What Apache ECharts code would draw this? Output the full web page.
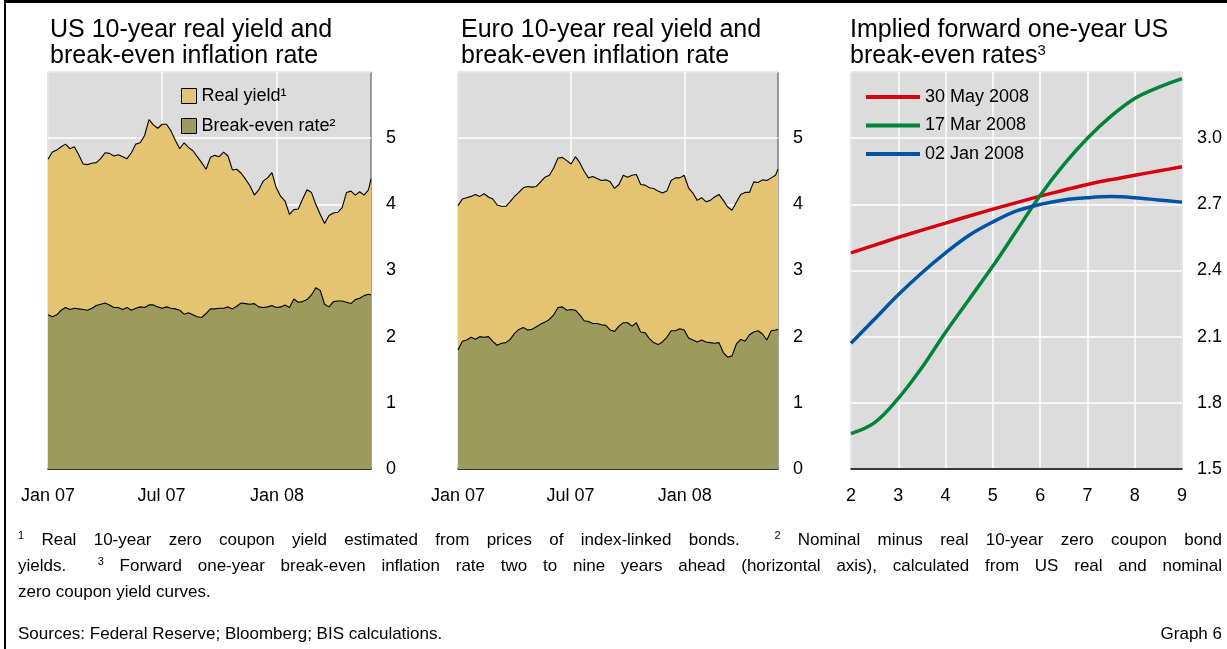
<!DOCTYPE html>
<html>
<head>
<meta charset="utf-8">
<script src="https://cdn.jsdelivr.net/npm/echarts@6/dist/echarts.min.js"></script>
<style>
  body { margin: 0; background: #fff; }
  #wrap { position: relative; width: 1227px; height: 649px; overflow: hidden; }
  #chart { position: absolute; left: 0; top: 0; width: 1227px; height: 649px; }
  .frame { position: absolute; left: 4px; top: 0; width: 1300px; height: 700px;
           border-top: 3px solid #000; border-left: 2px solid #000; pointer-events: none; }
  .notes { position: absolute; left: 18px; top: 527px; width: 1204px;
           font-family: 'Liberation Sans', Arial, sans-serif; font-size: 17px; line-height: 26px; color: #000; }
  .notes .j { text-align: justify; text-align-last: justify; }
  .notes sup { font-size: 11px; line-height: 0; vertical-align: 6px; }
  .src { position: absolute; left: 18px; top: 621px; width: 1204px; display: flex; justify-content: space-between;
         font-family: 'Liberation Sans', Arial, sans-serif; font-size: 17px; line-height: 26px; color: #000; }
</style>
</head>
<body>
<div id="wrap">
  <div id="chart"></div>
  <div class="frame"></div>
  <div class="notes">
    <div class="j"><sup>1</sup>&nbsp;Real 10-year zero coupon yield estimated from prices of index-linked bonds.&nbsp; <sup>2</sup>&nbsp;Nominal minus real 10-year zero coupon bond</div>
    <div class="j">yields.&nbsp; <sup>3</sup>&nbsp;Forward one-year break-even inflation rate two to nine years ahead (horizontal axis), calculated from US real and nominal</div>
    <div>zero coupon yield curves.</div>
  </div>
  <div class="src"><span>Sources: Federal Reserve; Bloomberg; BIS calculations.</span><span>Graph 6</span></div>
</div>
<script>
// weekly observations, Jan 2007 - 30 May 2008
// nominal = top edge of the yellow area (real yield + break-even), breakEven = top of the olive area
var usNominal = [4.68,4.79,4.82,4.87,4.91,4.84,4.87,4.75,4.61,4.60, 4.62,4.63,4.69,4.78,4.77,4.73,4.75,4.72,4.69,4.78,
  4.91,4.93,5.04,5.28,5.20,5.15,5.21,5.21,5.11,4.97, 4.84,4.93,4.86,4.81,4.72,4.63,4.53,4.71,4.74,4.72,
  4.79,4.73,4.52,4.53,4.47,4.38,4.28,4.14,4.22,4.35, 4.40,4.48,4.25,4.12,4.05,3.85,3.92,3.93,4.08,4.22,
  4.18,4.00,3.85,3.71,3.83,3.87,3.88,3.95,4.18,4.20, 4.14,4.19,4.14,4.22,4.38]
var usBreakEven = [2.33,2.30,2.33,2.40,2.44,2.41,2.43,2.42,2.41,2.40, 2.43,2.47,2.49,2.51,2.48,2.44,2.44,2.41,2.44,2.40,
  2.43,2.45,2.44,2.48,2.48,2.45,2.43,2.45,2.43,2.42, 2.40,2.34,2.36,2.33,2.30,2.29,2.35,2.42,2.42,2.43,
  2.43,2.45,2.42,2.46,2.51,2.50,2.49,2.50,2.45,2.44, 2.45,2.47,2.44,2.45,2.48,2.44,2.57,2.52,2.53,2.56,
  2.63,2.74,2.70,2.49,2.45,2.53,2.54,2.54,2.52,2.50, 2.56,2.58,2.62,2.64,2.63]
var euroNominal = [3.98,4.08,4.10,4.12,4.15,4.12,4.16,4.11,4.08,3.99, 3.97,3.97,4.04,4.12,4.18,4.25,4.27,4.26,4.27,4.34,
  4.41,4.44,4.55,4.70,4.71,4.66,4.61,4.72,4.63,4.50, 4.40,4.42,4.39,4.36,4.37,4.34,4.24,4.30,4.44,4.41,
  4.44,4.45,4.30,4.29,4.25,4.24,4.20,4.17,4.20,4.36, 4.40,4.40,4.44,4.25,4.17,4.06,4.10,4.04,4.06,4.11,
  4.15,4.06,3.96,3.91,4.03,4.15,4.18,4.18,4.34,4.33, 4.37,4.36,4.40,4.44,4.53]
var euroBreakEven = [1.80,1.93,1.95,1.99,1.96,2.00,1.99,2.00,1.93,1.87, 1.90,1.91,1.96,2.05,2.11,2.14,2.10,2.11,2.15,2.19,
  2.22,2.26,2.33,2.44,2.45,2.40,2.41,2.40,2.33,2.24, 2.23,2.20,2.20,2.18,2.17,2.10,2.08,2.16,2.21,2.21,
  2.16,2.21,2.07,2.06,1.97,1.91,1.88,1.92,1.99,2.09, 2.09,2.12,2.10,1.98,1.95,1.92,1.95,1.92,1.91,1.90,
  1.91,1.76,1.69,1.71,1.89,1.96,1.93,2.03,2.07,2.09, 2.04,1.95,2.09,2.10,2.11]

// forward one-year break-even curves, horizon in years
var horizon = [2,2.5,3,3.5,4,4.5,5,5.5,6,6.5,7,7.5,8,8.5,9]
var fwdMay30 = [2.48,2.515,2.55,2.583,2.615,2.647,2.678,2.708,2.737,2.764,2.79,2.812,2.832,2.851,2.87]
var fwdMar17 = [1.66,1.71,1.82,1.96,2.12,2.27,2.42,2.58,2.74,2.88,3.00,3.10,3.18,3.23,3.27]
var fwdJan02 = [2.07,2.18,2.29,2.39,2.48,2.56,2.62,2.67,2.70,2.72,2.73,2.735,2.73,2.72,2.71]

var dateTicks = ['Jan 07', 'Jul 07', 'Jan 08']

var dates = []
for (var i = 0; i < 74; i++) dates.push(new Date(2007, 0, 1 + 7 * i).getTime())
dates.push(new Date(2008, 4, 30).getTime())
var tStart = new Date(2007, 0, 1).getTime()
var tEnd = new Date(2008, 4, 30).getTime()
var tickTimes = [tStart, new Date(2007, 6, 1).getTime(), new Date(2008, 0, 1).getTime()]

function pairs(xs, ys) { return ys.map(function (v, k) { return [xs[k], v] }) }

var FONT = "'Liberation Sans', Arial, sans-serif"
var YELLOW = '#e3c472', OLIVE = '#9c9a5c', BG = '#dcdcdc'

// dates kept as timestamps on a value axis so the three month ticks sit exactly
function timeAxis(idx) {
    return {
        type: 'value', gridIndex: idx, min: tStart, max: tEnd, scale: true,
        axisLine: { onZero: false, lineStyle: { color: '#000', width: 1.5 } },
        axisTick: { show: false, customValues: tickTimes },
        splitLine: { show: true, lineStyle: { color: '#fff', width: 1.5 } },
        axisLabel: {
            customValues: tickTimes, margin: 18, fontSize: 18, color: '#000', fontFamily: FONT,
            formatter: function (v) { return dateTicks[tickTimes.indexOf(v)] || '' }
        }
    }
}
function rateAxis(idx, min, max, step, dec) {
    return {
        type: 'value', gridIndex: idx, position: 'right', min: min, max: max, interval: step,
        axisLine: { show: false }, axisTick: { show: false },
        splitLine: { lineStyle: { color: '#fff', width: 1.5 } },
        axisLabel: {
            margin: 15, fontSize: 18, color: '#000', fontFamily: FONT,
            formatter: function (v) { return Math.abs(v - max) < 1e-6 ? '' : v.toFixed(dec) }
        }
    }
}
// yellow area runs to the nominal yield, olive break-even area is laid over it
function areaSeries(name, idx, data, color) {
    return {
        name: name, type: 'line', xAxisIndex: idx, yAxisIndex: idx,
        data: pairs(dates, data), symbol: 'none', z: 3,
        itemStyle: { color: color },
        lineStyle: { color: '#000', width: 1.1 },
        areaStyle: { color: color, opacity: 1 }
    }
}
function curve(name, data, color) {
    return {
        name: name, type: 'line', xAxisIndex: 2, yAxisIndex: 2, smooth: 0.35,
        data: pairs(horizon, data), symbol: 'none', z: 3,
        itemStyle: { color: color },
        lineStyle: { color: color, width: 3.5 }
    }
}

var gridBase = { show: true, backgroundColor: BG, borderColor: '#444', borderWidth: 1, top: 72, height: 397 }
var titleStyle = { fontSize: 25, lineHeight: 26, fontWeight: 'normal', color: '#000', fontFamily: FONT }

var chart = echarts.init(document.getElementById('chart'))
chart.setOption({
    animation: false,
    backgroundColor: '#fff',
    textStyle: { fontFamily: FONT },
    title: [
        { text: 'US 10-year real yield and\nbreak-even inflation rate', left: 45, top: 12, textStyle: titleStyle },
        { text: 'Euro 10-year real yield and\nbreak-even inflation rate', left: 456, top: 12, textStyle: titleStyle },
        {
            text: 'Implied forward one-year US\nbreak-even rates{s|3}', left: 845, top: 12,
            textStyle: Object.assign({}, titleStyle, {
                rich: { s: { fontSize: 15, lineHeight: 26, verticalAlign: 'top', color: '#000', fontFamily: FONT } }
            })
        }
    ],
    grid: [
        Object.assign({ left: 48, width: 323 }, gridBase),
        Object.assign({ left: 458, width: 320 }, gridBase),
        Object.assign({ left: 851, width: 331 }, gridBase)
    ],
    legend: [
        {
            left: 176, top: 82, orient: 'vertical', itemWidth: 15, itemHeight: 15, itemGap: 12,
            selectedMode: false, icon: 'rect',
            textStyle: { fontSize: 18, color: '#000', fontFamily: FONT },
            data: [
                { name: 'Real yield¹', itemStyle: { color: YELLOW, borderColor: '#000', borderWidth: 1 } },
                { name: 'Break-even rate²', itemStyle: { color: OLIVE, borderColor: '#000', borderWidth: 1 } }
            ]
        },
        {
            left: 861, top: 83, orient: 'vertical', itemWidth: 54, itemHeight: 4, itemGap: 10.5,
            selectedMode: false, icon: 'rect',
            textStyle: { fontSize: 18, color: '#000', fontFamily: FONT },
            data: ['30 May 2008', '17 Mar 2008', '02 Jan 2008']
        }
    ],
    xAxis: [
        timeAxis(0),
        timeAxis(1),
        {
            type: 'value', gridIndex: 2, min: 2, max: 9, interval: 1,
            axisLine: { lineStyle: { color: '#000', width: 1.5 } },
            axisTick: { show: false },
            splitLine: { show: true, lineStyle: { color: '#fff', width: 1.5 } },
            axisLabel: { margin: 18, fontSize: 18, color: '#000', fontFamily: FONT }
        }
    ],
    yAxis: [
        rateAxis(0, 0, 6, 1, 0),
        rateAxis(1, 0, 6, 1, 0),
        rateAxis(2, 1.5, 3.3, 0.3, 1)
    ],
    series: [
        areaSeries('Real yield¹', 0, usNominal, YELLOW),
        areaSeries('Break-even rate²', 0, usBreakEven, OLIVE),
        areaSeries('Euro real yield', 1, euroNominal, YELLOW),
        areaSeries('Euro break-even rate', 1, euroBreakEven, OLIVE),
        curve('30 May 2008', fwdMay30, '#d7000f'),
        curve('17 Mar 2008', fwdMar17, '#00843d'),
        curve('02 Jan 2008', fwdJan02, '#0054a6')
    ]
})
</script>
</body>
</html>
